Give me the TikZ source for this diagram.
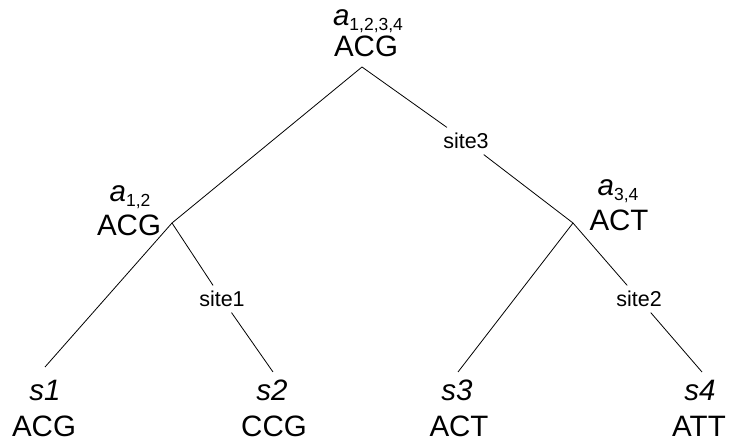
\documentclass[tikz,border=0pt]{standalone}
\usepackage{fontspec}
\setmainfont{Liberation Sans}
\newcommand{\ancname}[2]{{\itshape #1}\raisebox{-5pt}{\fontsize{17.5}{18}\selectfont #2}}
\begin{document}
\begin{tikzpicture}[x=1pt,y=-1pt,
  big/.style={font=\fontsize{29.5}{31}\selectfont, inner sep=0pt, anchor=base},
  sitelab/.style={font=\fontsize{21.5}{23}\selectfont, inner sep=5.5pt},
  edge/.style={line width=0.8pt, black}]
\useasboundingbox (0,0) rectangle (729,443);

% internal node labels
\node[big] (rt) at (368,26) {\ancname{a}{1,2,3,4}};
\node[big] (rs) at (366,57) {ACG};
\node[big] (lt) at (130,202) {\ancname{a}{1,2}};
\node[big] (ls) at (129,236) {ACG};
\node[big] (qt) at (618,196) {\ancname{a}{3,4}};
\node[big] (qs) at (619,231) {ACT};

% leaves
\node[big] (s1) at (45,401) {\itshape s1};
\node[big] (q1) at (44,437) {ACG};
\node[big] (s2) at (272,401) {\itshape s2};
\node[big] (q2) at (274,437) {CCG};
\node[big] (s3) at (457,401) {\itshape s3};
\node[big] (q3) at (459,437) {ACT};
\node[big] (s4) at (700,401) {\itshape s4};
\node[big] (q4) at (699,437) {ATT};

% junctions and line ends
\coordinate (r) at (362,67);
\coordinate (j12) at (172,223);
\coordinate (j34) at (573,223);
\coordinate (e1) at (45,367);
\coordinate (e2) at (273,372);
\coordinate (e3) at (458,372);
\coordinate (e4) at (702,372);

% site labels
\node[sitelab] (site3) at (466,141) {site3};
\node[sitelab] (site1) at (222,299) {site1};
\node[sitelab] (site2) at (639,299) {site2};

% edges
\draw[edge] (r) -- (j12);
\draw[edge] (r) -- (site3);
\draw[edge] (site3) -- (j34);
\draw[edge] (j12) -- (e1);
\draw[edge] (j12) -- (site1);
\draw[edge] (site1) -- (e2);
\draw[edge] (j34) -- (e3);
\draw[edge] (j34) -- (site2);
\draw[edge] (site2) -- (e4);
\end{tikzpicture}
\end{document}
